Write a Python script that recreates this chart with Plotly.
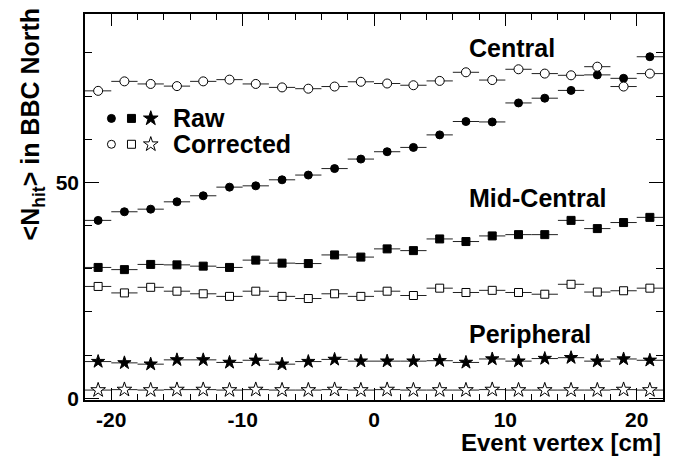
import plotly.graph_objects as go

# ---- data ----
vertex = [-21, -19, -17, -15, -13, -11, -9, -7, -5, -3, -1,
          1, 3, 5, 7, 9, 11, 13, 15, 17, 19, 21]
bin_half_width = [1] * len(vertex)

central_raw = [41.2, 43.2, 43.8, 45.5, 46.9, 48.9, 49.2, 50.6, 51.7, 53.2, 55.4,
               57.1, 58.1, 61.0, 64.1, 64.0, 68.4, 69.5, 71.3, 74.9, 74.1, 79.1]
central_corr = [71.2, 73.4, 72.8, 72.3, 73.4, 73.8, 72.8, 72.0, 71.7, 72.2, 73.3,
                72.9, 72.5, 73.5, 75.5, 73.7, 76.2, 75.2, 74.8, 76.8, 72.2, 75.2]
mid_raw = [30.3, 29.8, 31.0, 30.9, 30.6, 30.3, 32.0, 31.3, 31.2, 33.2, 32.7,
           34.6, 34.2, 36.9, 36.3, 37.6, 37.9, 37.9, 41.2, 39.3, 40.7, 41.9]
mid_corr = [25.9, 24.4, 25.7, 24.8, 24.2, 23.6, 24.8, 23.6, 23.1, 24.2, 23.6,
            24.8, 23.8, 25.5, 24.5, 25.0, 24.5, 24.1, 26.4, 24.6, 24.9, 25.5]
per_raw = [8.5, 8.2, 7.9, 8.9, 8.9, 8.3, 8.8, 7.9, 8.5, 9.0, 8.6,
           8.6, 8.6, 8.7, 8.3, 9.1, 8.6, 9.2, 9.4, 8.6, 9.1, 8.8]
per_corr = [1.9, 2.0, 1.9, 2.0, 2.0, 1.9, 2.0, 1.9, 1.9, 2.0, 1.9,
            2.0, 1.9, 1.9, 1.9, 2.0, 1.9, 1.9, 1.9, 1.9, 2.0, 1.9]

x_ticks = [-20, -10, 0, 10, 20]
x_tick_labels = ["-20", "-10", "0", "10", "20"]
y_ticks = [0, 50]
y_tick_labels = ["0", "50"]
class_labels = ["Central", "Mid-Central", "Peripheral"]
legend_labels = ["Raw", "Corrected"]

FONT = "Liberation Sans"
BLACK = "black"

fig = go.Figure()

series = [
    (central_raw, "circle", BLACK, 8),
    (central_corr, "circle", "white", 9),
    (mid_raw, "square", BLACK, 8),
    (mid_corr, "square", "white", 8),
    (per_raw, "star", BLACK, 10),
    (per_corr, "star", "white", 11),
]
for vals, sym, fill, size in series:
    fig.add_trace(go.Scatter(
        x=vertex, y=vals, mode="markers",
        marker=dict(symbol=sym, color=fill, size=size,
                    line=dict(color=BLACK, width=1)),
        error_x=dict(type="data", array=bin_half_width, visible=True,
                     color="#222", thickness=1, width=0),
        showlegend=False, hoverinfo="skip"))

# legend-like key drawn in an overlay axis (0..1 space)
key_rows = [(0.7295, BLACK), (0.6625, "white")]
key_syms = [("circle", 8), ("square", 8), ("star", 11)]
key_x = [0.0457, 0.0804, 0.1138]
for (ky, fill) in key_rows:
    for (sym, size), kx in zip(key_syms, key_x):
        fig.add_trace(go.Scatter(
            x=[kx], y=[ky], mode="markers", xaxis="x2", yaxis="y2",
            marker=dict(symbol=sym, color=fill, size=size,
                        line=dict(color=BLACK, width=1)),
            showlegend=False, hoverinfo="skip"))

for label, ky in zip(legend_labels, [0.7295, 0.6625]):
    fig.add_annotation(x=0.1496, y=ky, xref="paper", yref="paper",
                       text=label, showarrow=False, xanchor="left", yanchor="middle",
                       font=dict(family=FONT, size=25, color=BLACK, weight="bold"))

for label, py in zip(class_labels, [0.912, 0.523, 0.170]):
    fig.add_annotation(x=0.661, y=py, xref="paper", yref="paper",
                       text=label, showarrow=False, xanchor="left", yanchor="middle",
                       font=dict(family=FONT, size=25, color=BLACK, weight="bold"))

# axis titles
fig.add_annotation(x=-0.091, y=1.022, xref="paper", yref="paper",
                   text="&lt;N<sub>hit</sub>&gt; in BBC North", textangle=-90,
                   showarrow=False, xanchor="center", yanchor="top",
                   font=dict(family=FONT, size=25, color=BLACK, weight="bold"))
fig.add_annotation(x=1.0, y=-0.109, xref="paper", yref="paper",
                   text="Event vertex [cm]", showarrow=False,
                   xanchor="right", yanchor="middle",
                   font=dict(family=FONT, size=24, color=BLACK, weight="bold"))

axis_common = dict(showgrid=False, zeroline=False, showline=True, linecolor=BLACK,
                   linewidth=1.5, mirror="allticks", ticks="inside",
                   tickcolor=BLACK, tickwidth=1,
                   tickfont=dict(family=FONT, size=21, color=BLACK, weight="bold"))

fig.update_layout(
    width=685, height=457, autosize=False,
    margin=dict(l=85, r=22, t=12, b=57),
    paper_bgcolor="white", plot_bgcolor="white",
    xaxis=dict(range=[-22, 22], tickvals=x_ticks, ticktext=x_tick_labels, ticklen=12,
               minor=dict(dtick=2, tick0=0, ticks="inside", ticklen=6,
                          tickcolor=BLACK, tickwidth=1, showgrid=False),
               **axis_common),
    yaxis=dict(range=[-0.4, 89], tickvals=y_ticks, ticktext=y_tick_labels, ticklen=14,
               minor=dict(dtick=10, tick0=0, ticks="inside", ticklen=7,
                          tickcolor=BLACK, tickwidth=1, showgrid=False),
               **axis_common),
    xaxis2=dict(overlaying="x", range=[0, 1], visible=False),
    yaxis2=dict(overlaying="y", range=[0, 1], visible=False),
)

fig.write_html("out.html", config={"displayModeBar": False},
               post_script="document.body.style.margin='0';document.body.style.padding='0';")
